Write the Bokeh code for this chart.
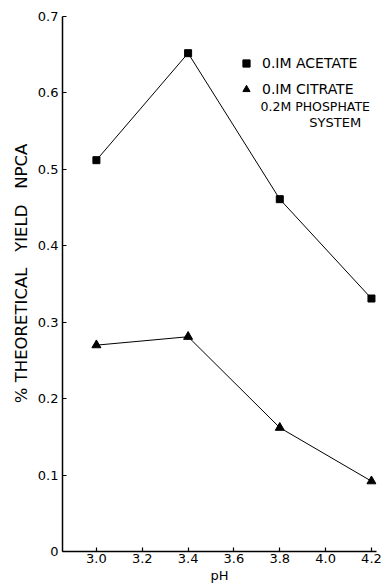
from bokeh.plotting import figure
from bokeh.models import Range1d, FixedTicker, Legend, LegendItem, Label
from bokeh.embed import file_html
from bokeh.resources import INLINE

ph = [3.0, 3.4, 3.8, 4.2]
acetate = [0.512, 0.652, 0.461, 0.331]
citrate = [0.270, 0.281, 0.162, 0.092]
x_ticks = [3.0, 3.2, 3.4, 3.6, 3.8, 4.0, 4.2]
y_ticks = [0, 0.1, 0.2, 0.3, 0.4, 0.5, 0.6, 0.7]

FONT = "DejaVu Sans"
NB = "\u00a0"

p = figure(width=386, height=585, output_backend="svg", toolbar_location=None,
           x_range=Range1d(2.852, 4.222), y_range=Range1d(0, 0.7),
           min_border_left=62, min_border_top=16, min_border_right=10, min_border_bottom=34)
p.outline_line_color = None
p.grid.visible = False

for ax in (p.xaxis[0], p.yaxis[0]):
    ax.axis_line_width = 1.5
    ax.axis_line_color = "black"
    ax.major_tick_in = 4
    ax.major_tick_out = 0
    ax.minor_tick_line_color = None
    ax.major_tick_line_width = 1.2
    ax.major_label_text_font = FONT
    ax.major_label_text_font_size = "13px"
    ax.major_label_text_color = "black"
    ax.axis_label_text_font = FONT
    ax.axis_label_text_font_style = "normal"
    ax.axis_label_text_color = "black"

p.xaxis.ticker = FixedTicker(ticks=x_ticks)
p.xaxis.major_label_overrides = {t: f"{t:.1f}" for t in x_ticks}
p.xaxis.axis_label = "pH"
p.xaxis.axis_label_text_font_size = "13px"
p.xaxis.axis_label_standoff = 2
p.xaxis.major_label_standoff = 2

p.yaxis.ticker = FixedTicker(ticks=y_ticks)
p.yaxis.major_label_overrides = {t: ("0" if t == 0 else f"{t:.1f}") for t in y_ticks}
p.yaxis.axis_label = (NB * 4 + "%" + NB + "THEORETICAL" + NB * 3 + "YIELD" + NB * 3 + "NPCA")
p.yaxis.axis_label_text_font_size = "16.5px"
p.yaxis.axis_label_standoff = 4
p.yaxis.major_label_standoff = 4

p.line(ph, acetate, line_color="black", line_width=1)
p.line(ph, citrate, line_color="black", line_width=1)
sq = p.scatter(ph, acetate, marker="square", size=7, color="black")
tr = p.scatter(ph, citrate, marker="triangle", size=9, color="black")

legend = Legend(items=[LegendItem(label="0.IM ACETATE", renderers=[sq]),
                       LegendItem(label="0.IM CITRATE", renderers=[tr])],
                location=(175, 453), padding=0, margin=0, spacing=8,
                glyph_width=18, glyph_height=18, label_height=18, label_standoff=7,
                border_line_color=None, background_fill_alpha=0,
                label_text_font=FONT, label_text_font_size="14px",
                label_text_color="black")
p.add_layout(legend)

p.add_layout(Label(x=3.716, y=0.582, text="0.2M PHOSPHATE", text_baseline="middle",
                   text_font=FONT, text_font_size="12.5px", text_color="black"))
p.add_layout(Label(x=3.929, y=0.561, text="SYSTEM", text_baseline="middle",
                   text_font=FONT, text_font_size="13px", text_color="black"))

open("out.html", "w").write(file_html(p, INLINE))
